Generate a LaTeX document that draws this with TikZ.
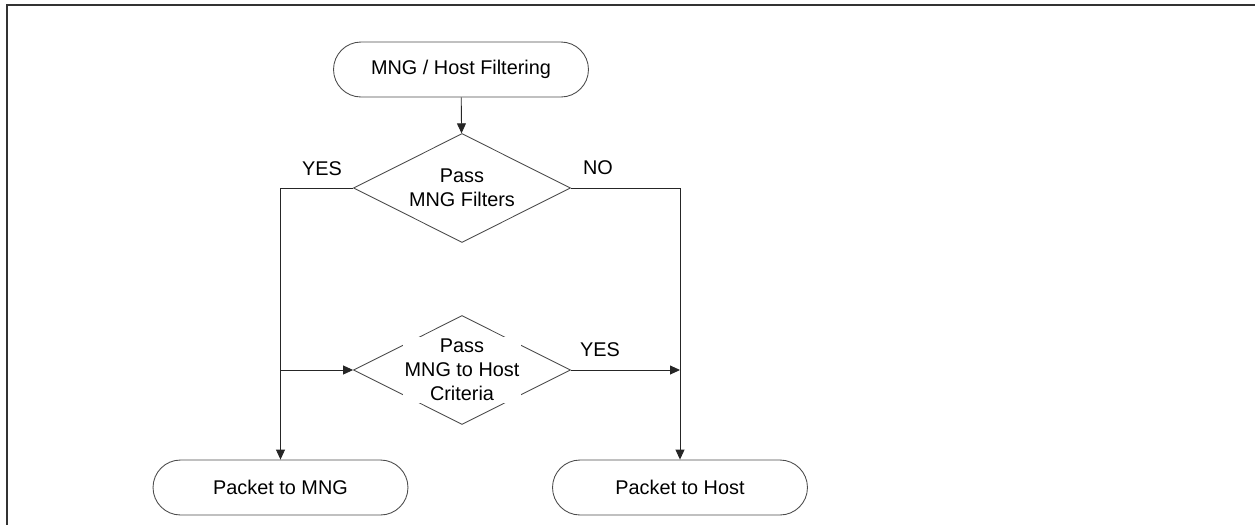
\documentclass[tikz,border=0pt]{standalone}
\usepackage{fontspec}
\setmainfont{Liberation Sans}
\usetikzlibrary{arrows.meta, positioning, shapes.geometric}

\begin{document}
\begin{tikzpicture}[x=0.02cm, y=-0.02cm,
    font=\fontsize{11.3}{13.8}\selectfont,
    term/.style={draw=black!70, line width=0.5pt, rounded corners=0.55cm, minimum width=5.1cm, minimum height=1.1cm},
    decide/.style={draw=black!70, line width=0.5pt, diamond, aspect=2, inner sep=0pt, minimum width=4.34cm, minimum height=2.18cm, align=center},
    arr/.style={draw=black!85, line width=0.5pt, -{Triangle[length=0.2cm, width=0.18cm]}}]
  \useasboundingbox (0,0) rectangle (1255,525);
  \draw[line width=1.6pt, black!80] (1255,5) -- (7,5) -- (7,525);

  \node[term] (start) at (461,69.5) {MNG / Host Filtering};
  \node[decide] (filt) at (462,188) {Pass\\MNG Filters};
  \node[decide] (crit) at (462,370) {};
  \node[fill=white, inner sep=1pt, align=center] (crittxt) at (462,370) {Pass\\MNG to Host\\Criteria};
  \node[term] (mng) at (280.5,487.5) {Packet to MNG};
  \node[term] (host) at (680,487.5) {Packet to Host};

  \draw[arr] (start) -- (filt);
  \draw[arr] (filt.west) -| (mng.north);
  \draw[arr] (filt.east) -| (host.north);
  \draw[arr] (mng.north |- crit.west) -- (crit.west);
  \draw[arr] (crit.east) -- (crit.east -| host.north);

  \node (yes1) at (322,169) {YES};
  \node (no1) at (598,168) {NO};
  \node (yes2) at (600,350) {YES};
\end{tikzpicture}
\end{document}
